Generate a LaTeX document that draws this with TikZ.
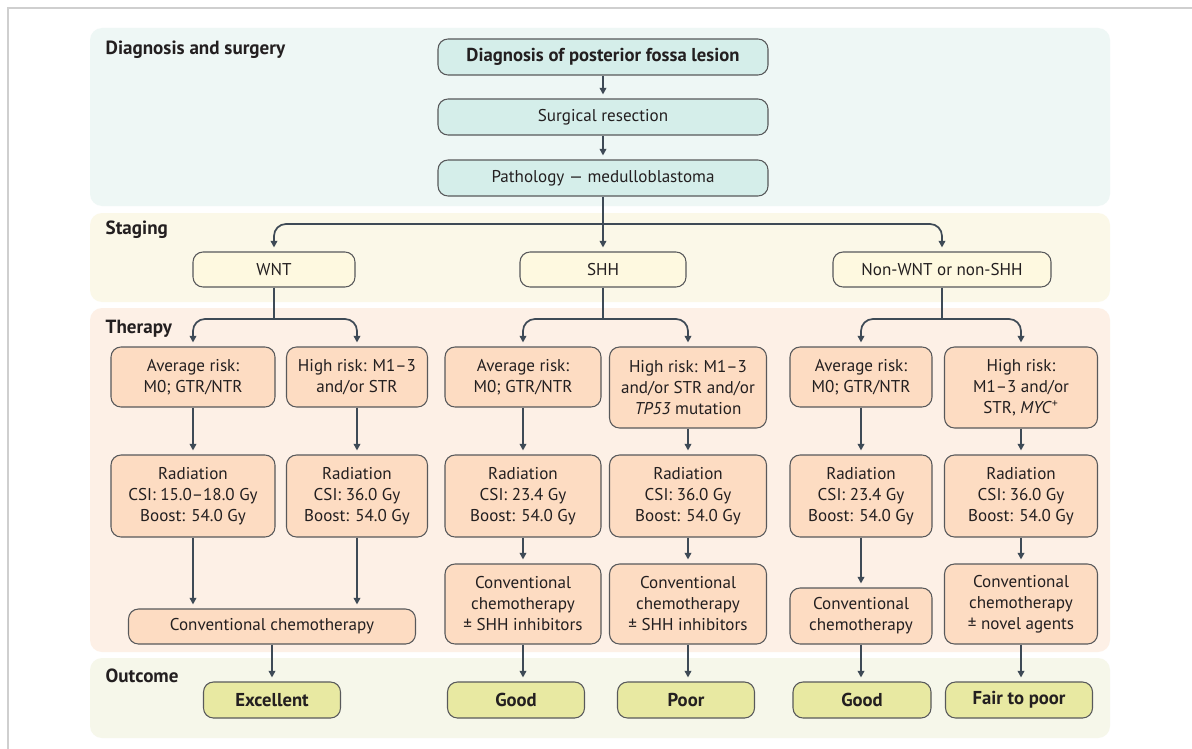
\documentclass[tikz,border=0pt]{standalone}
\usepackage{fontspec}
\setmainfont{PT Sans}
\usetikzlibrary{arrows.meta}
\definecolor{dpanel}{HTML}{EEF7F5}
\definecolor{spanel}{HTML}{FBF8E8}
\definecolor{tpanel}{HTML}{FDF0E6}
\definecolor{opanel}{HTML}{F6F7EA}
\definecolor{dfill}{HTML}{D5EEEA}
\definecolor{sfill}{HTML}{FEF9E0}
\definecolor{tfill}{HTML}{FDDCC2}
\definecolor{ofill}{HTML}{E8E9A2}
\definecolor{boxline}{HTML}{58595B}
\definecolor{arrcol}{HTML}{3E4A56}
\definecolor{framecol}{HTML}{CFCFCF}
\definecolor{txt}{HTML}{231F20}
\begin{document}
\begin{tikzpicture}[x=0.75pt,y=-0.75pt,
  box/.style={draw=boxline, line width=0.8pt, rounded corners=7.5pt, align=center, inner sep=0pt, text=txt, font=\fontsize{12.8}{15.75}\selectfont},
  sz/.style 2 args={minimum width=#1*0.75pt, minimum height=#2*0.75pt},
  dbox/.style={box, fill=dfill},
  sbox/.style={box, fill=sfill},
  tbox/.style={box, fill=tfill},
  obox/.style={box, fill=ofill, font=\bfseries\fontsize{14}{16}\selectfont},
  ln/.style={draw=arrcol, line width=1.3pt},
  arr/.style={ln, -{Triangle[length=5pt,width=5pt]}, shorten >=3pt},
  panel/.style={rounded corners=9pt},
  sect/.style={anchor=west, text=txt, font=\bfseries\fontsize{14.3}{16}\selectfont}
]
\useasboundingbox (0,0) rectangle (1192,749);
\fill[white] (0,0) rectangle (1192,749);
\draw[framecol, line width=1.5pt] (8,749) -- (8,8) -- (1192,8);

% panels
\fill[dpanel, panel] (90,28) rectangle (1110,206);
\fill[spanel, panel] (90,213) rectangle (1110,302);
\fill[tpanel, panel] (90,308) rectangle (1110,652);
\fill[opanel, panel] (90,658) rectangle (1110,738);

\node[sect] (ls1) at (101,50) {Diagnosis and surgery};
\node[sect] (ls2) at (101,230) {Staging};
\node[sect] (ls3) at (101,329) {Therapy};
\node[sect] (ls4) at (101,676) {Outcome};

% diagnosis
\node[dbox, sz={330}{36}, font=\bfseries\fontsize{14}{16}\selectfont] (diag) at (603,57) {Diagnosis of posterior fossa lesion};
\node[dbox, sz={330}{36}] (surg) at (603,117) {Surgical resection};
\node[dbox, sz={330}{36}] (patho) at (603,178) {Pathology — medulloblastoma};

% staging
\node[sbox, sz={162}{35}] (wnt) at (274,269.5) {WNT};
\node[sbox, sz={166}{35}] (shh) at (603,269.5) {SHH};
\node[sbox, sz={218}{35}] (non) at (942,269.5) {Non-WNT or non-SHH};

% risk
\node[tbox, sz={164}{60}] (a1) at (193,377) {Average risk:\\M0; GTR/NTR};
\node[tbox, sz={141}{60}] (h1) at (357,377) {High risk: M1–3\\and/or STR};
\node[tbox, sz={156}{60}] (a2) at (523,377) {Average risk:\\M0; GTR/NTR};
\node[tbox, sz={157}{81}] (h2) at (688,387.5) {High risk: M1–3\\and/or STR and/or\\\textit{TP53} mutation};
\node[tbox, sz={142}{60}] (a3) at (861,377) {Average risk:\\M0; GTR/NTR};
\node[tbox, sz={153}{81}] (h3) at (1021,387.5) {High risk:\\M1–3 and/or\\STR, \textit{MYC}\textsuperscript{+}};

% radiation
\node[tbox, sz={164}{82}] (r1) at (193,496) {Radiation\\CSI: 15.0–18.0 Gy\\Boost: 54.0 Gy};
\node[tbox, sz={141}{82}] (r2) at (357,496) {Radiation\\CSI: 36.0 Gy\\Boost: 54.0 Gy};
\node[tbox, sz={156}{82}] (r3) at (523,496) {Radiation\\CSI: 23.4 Gy\\Boost: 54.0 Gy};
\node[tbox, sz={157}{82}] (r4) at (688,496) {Radiation\\CSI: 36.0 Gy\\Boost: 54.0 Gy};
\node[tbox, sz={142}{82}] (r5) at (861,496) {Radiation\\CSI: 23.4 Gy\\Boost: 54.0 Gy};
\node[tbox, sz={153}{82}] (r6) at (1021,496) {Radiation\\CSI: 36.0 Gy\\Boost: 54.0 Gy};

% chemo
\node[tbox, sz={287}{35}] (cw) at (272,626.5) {Conventional chemotherapy};
\node[tbox, sz={156}{80}] (c3) at (523,604) {Conventional\\chemotherapy\\± SHH inhibitors};
\node[tbox, sz={157}{80}] (c4) at (688,604) {Conventional\\chemotherapy\\± SHH inhibitors};
\node[tbox, sz={142}{56}] (c5) at (861,616) {Conventional\\chemotherapy};
\node[tbox, sz={153}{80}] (c6) at (1021,604) {Conventional\\chemotherapy\\± novel agents};

% outcome
\node[obox, sz={137}{36}] (o1) at (272,700) {Excellent};
\node[obox, sz={137}{36}] (o2) at (516,700) {Good};
\node[obox, sz={137}{36}] (o3) at (686,700) {Poor};
\node[obox, sz={138}{36}] (o4) at (862,700) {Good};
\node[obox, sz={147}{36}] (o5) at (1019,700) {Fair to poor};

% connectors: diagnosis
\draw[arr] (diag.south) -- (surg.north);
\draw[arr] (surg.south) -- (patho.north);

% staging branch
\coordinate (sb) at (603,224);
\draw[arr] (patho.south) -- (shh.north);
\draw[arr, rounded corners=9pt] (sb) -| (wnt.north);
\draw[arr, rounded corners=9pt] (sb) -| (non.north);

% therapy branches
\coordinate (tb1) at (274,319);
\coordinate (tb2) at (603,319);
\coordinate (tb3) at (942,319);
\draw[ln] (wnt.south) -- (tb1);
\draw[ln] (shh.south) -- (tb2);
\draw[ln] (non.south) -- (tb3);
\draw[arr, rounded corners=9pt] (tb1) -| (a1.north);
\draw[arr, rounded corners=9pt] (tb1) -| (h1.north);
\draw[arr, rounded corners=9pt] (tb2) -| (a2.north);
\draw[arr, rounded corners=9pt] (tb2) -| (h2.north);
\draw[arr, rounded corners=9pt] (tb3) -| (a3.north);
\draw[arr, rounded corners=9pt] (tb3) -| (h3.north);

% risk -> radiation
\draw[arr] (a1.south) -- (r1.north);
\draw[arr] (h1.south) -- (r2.north);
\draw[arr] (a2.south) -- (r3.north);
\draw[arr] (h2.south) -- (r4.north);
\draw[arr] (a3.south) -- (r5.north);
\draw[arr] (h3.south) -- (r6.north);

% radiation -> chemo
\draw[arr] (r1.south) -- (r1.south |- cw.north);
\draw[arr] (r2.south) -- (r2.south |- cw.north);
\draw[arr] (r3.south) -- (c3.north);
\draw[arr] (r4.south) -- (c4.north);
\draw[arr] (r5.south) -- (c5.north);
\draw[arr] (r6.south) -- (c6.north);

% chemo -> outcome
\draw[arr] (cw.south) -- (o1.north);
\draw[arr] (c3.south) -- (c3.south |- o2.north);
\draw[arr] (c4.south) -- (c4.south |- o3.north);
\draw[arr] (c5.south) -- (c5.south |- o4.north);
\draw[arr] (c6.south) -- (c6.south |- o5.north);
\end{tikzpicture}
\end{document}
